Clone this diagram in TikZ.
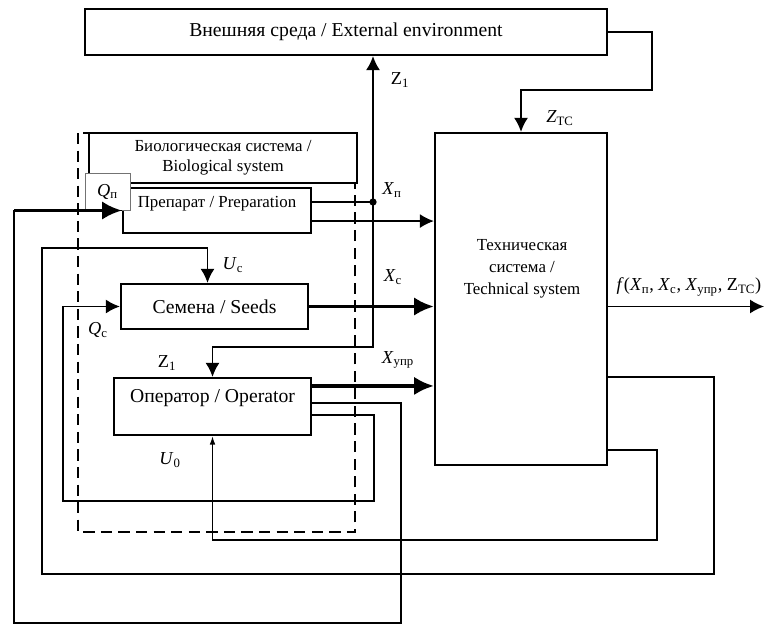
\documentclass[tikz,border=0pt]{standalone}
\usepackage{fontspec}
\setmainfont{Liberation Serif}
\usetikzlibrary{positioning,calc,arrows.meta}

\newcommand{\vlab}[2]{\textit{#1}\textsubscript{#2}}

\tikzset{
    block/.style={draw, line width=1.5pt, fill=white, inner sep=0pt},
    bigfont/.style={font=\fontsize{14}{16}\selectfont},
    tag/.style={font=\fontsize{13}{15}\selectfont},
    link/.style={line width=1.3pt},
    heavy/.style={line width=2.6pt},
    faint/.style={line width=0.9pt},
    envelope/.style={line width=1.4pt, dash pattern=on 8pt off 4.5pt},
    bigtip/.style={-{Latex[length=14pt,width=13pt]}},
    smalltip/.style={-{Latex[length=6pt,width=4pt]}}
}

\begin{document}
\begin{tikzpicture}[x=0.025cm, y=-0.025cm, font=\fontsize{12}{14}\selectfont,
    >={Latex[length=10pt,width=10pt]}]
    \useasboundingbox (0,0) rectangle (767,631);

    % Dashed frame of the biological system
    \draw[envelope] (78,133) rectangle (355,532);

    % Blocks
    \node[block, bigfont, minimum width=13.05cm, minimum height=1.15cm] (env) at (346,32)
        {Внешняя среда / External environment};
    \node[block, minimum width=6.7cm, minimum height=1.25cm, align=center] (bio) at (223,158)
        {Биологическая система /\\Biological system};
    \node[block, minimum width=4.7cm, text height=0.475cm, text depth=0.65cm] (prep) at (217,210.5)
        {Препарат / Preparation};
    \node[draw=black!55, line width=0.6pt, fill=white, tag, minimum width=1.125cm, minimum height=0.925cm, inner sep=0pt] (qp) at (107.5,191.5)
        {\vlab{Q}{п}};
    \node[block, bigfont, minimum width=4.675cm, minimum height=1.125cm] (seeds) at (214.5,306.5)
        {Семена / Seeds};
    \node[block, bigfont, minimum width=4.925cm, text height=0.6cm, text depth=0.825cm] (oper) at (212.5,406.5)
        {Оператор / Operator};
    \node[block, minimum width=4.3cm, minimum height=8.3cm] (tc) at (521,299) {};
    \node[align=center, font=\fontsize{12}{15.5}\selectfont] (tctext) at (522,269)
        {Техническая\\система /\\Technical system};

    % Z1: operator to environment
    \coordinate (zbend) at (373,347);
    \draw[link,<->] (zbend |- env.south) -- (zbend) -| (oper.north);

    % Preparation outputs
    \coordinate (xdot) at (373,202);
    \draw[link] (prep.east |- xdot) -- (xdot);
    \fill (xdot) circle (2.6pt);
    \coordinate (xpline) at ($(prep.south east)+(0,-13)$);
    \draw[link,->] (xpline) -- (xpline -| tc.west);

    % Seeds and operator outputs
    \draw[heavy,bigtip] (seeds.east) -- (seeds.east -| tc.west);
    \coordinate (opA) at ($(oper.north east)+(0,9)$);
    \coordinate (opB) at ($(oper.north east)+(0,26)$);
    \coordinate (opC) at ($(oper.north east)+(0,38)$);
    \draw[heavy,bigtip] (opA) -- (opA -| tc.west);

    % Feedback to preparation
    \coordinate (pfA) at (401,623);
    \coordinate (pfB) at (14,623);
    \draw[link] (opB) -| (pfA) -- (pfB) |- (prep.west);
    \draw[heavy,bigtip] (pfB |- prep.west) -- (prep.west);

    % Feedback to seeds
    \coordinate (sfA) at (374,501);
    \coordinate (sfB) at (63,501);
    \draw[link,->] (opC) -| (sfA) -- (sfB) |- (seeds.west);

    % Technical system back to seeds and operator
    \coordinate (tcA) at ($(tc.north east)+(0,245)$);
    \coordinate (tcB) at ($(tc.north east)+(0,318)$);
    \coordinate (ucA) at (714,574);
    \coordinate (ucB) at (42,248);
    \coordinate (ucin) at ($(seeds.north)+(-7,0)$);
    \draw[link,->] (tcA) -| (ucA) -| (ucB) -| (ucin);
    \coordinate (uoA) at (657,540);
    \draw[faint,smalltip] (tcB) -| (uoA) -| (oper.south);

    % Environment to technical system
    \coordinate (envA) at (652,90);
    \draw[link,->] (env.east) -| (envA) -| (tc.north);

    % Output
    \draw[link,->] (tc.east |- seeds.east) -- ++(156,0) coordinate (fend);

    % Labels
    \node[tag] (lz1) at (400,80) {Z\textsubscript{1}};
    \node[tag] (lztc) at (560,118) {\vlab{Z}{ТС}};
    \node[tag] (lxp) at (392,190) {\vlab{X}{п}};
    \node[tag] (lxs) at (393,277) {\vlab{X}{с}};
    \node[tag] (lxu) at (398,360) {\vlab{X}{упр}};
    \node[tag] (lf) at (689,287) {\textit{f}(\vlab{X}{п}, \vlab{X}{с}, \vlab{X}{упр}, Z\textsubscript{ТС})};
    \node[tag] (luc) at (233,265) {\vlab{U}{с}};
    \node[tag] (lz1b) at (167,363) {Z\textsubscript{1}};
    \node[tag] (lqc) at (98,330) {\vlab{Q}{с}};
    \node[tag] (lu0) at (170,460) {\vlab{U}{0}};
\end{tikzpicture}
\end{document}
